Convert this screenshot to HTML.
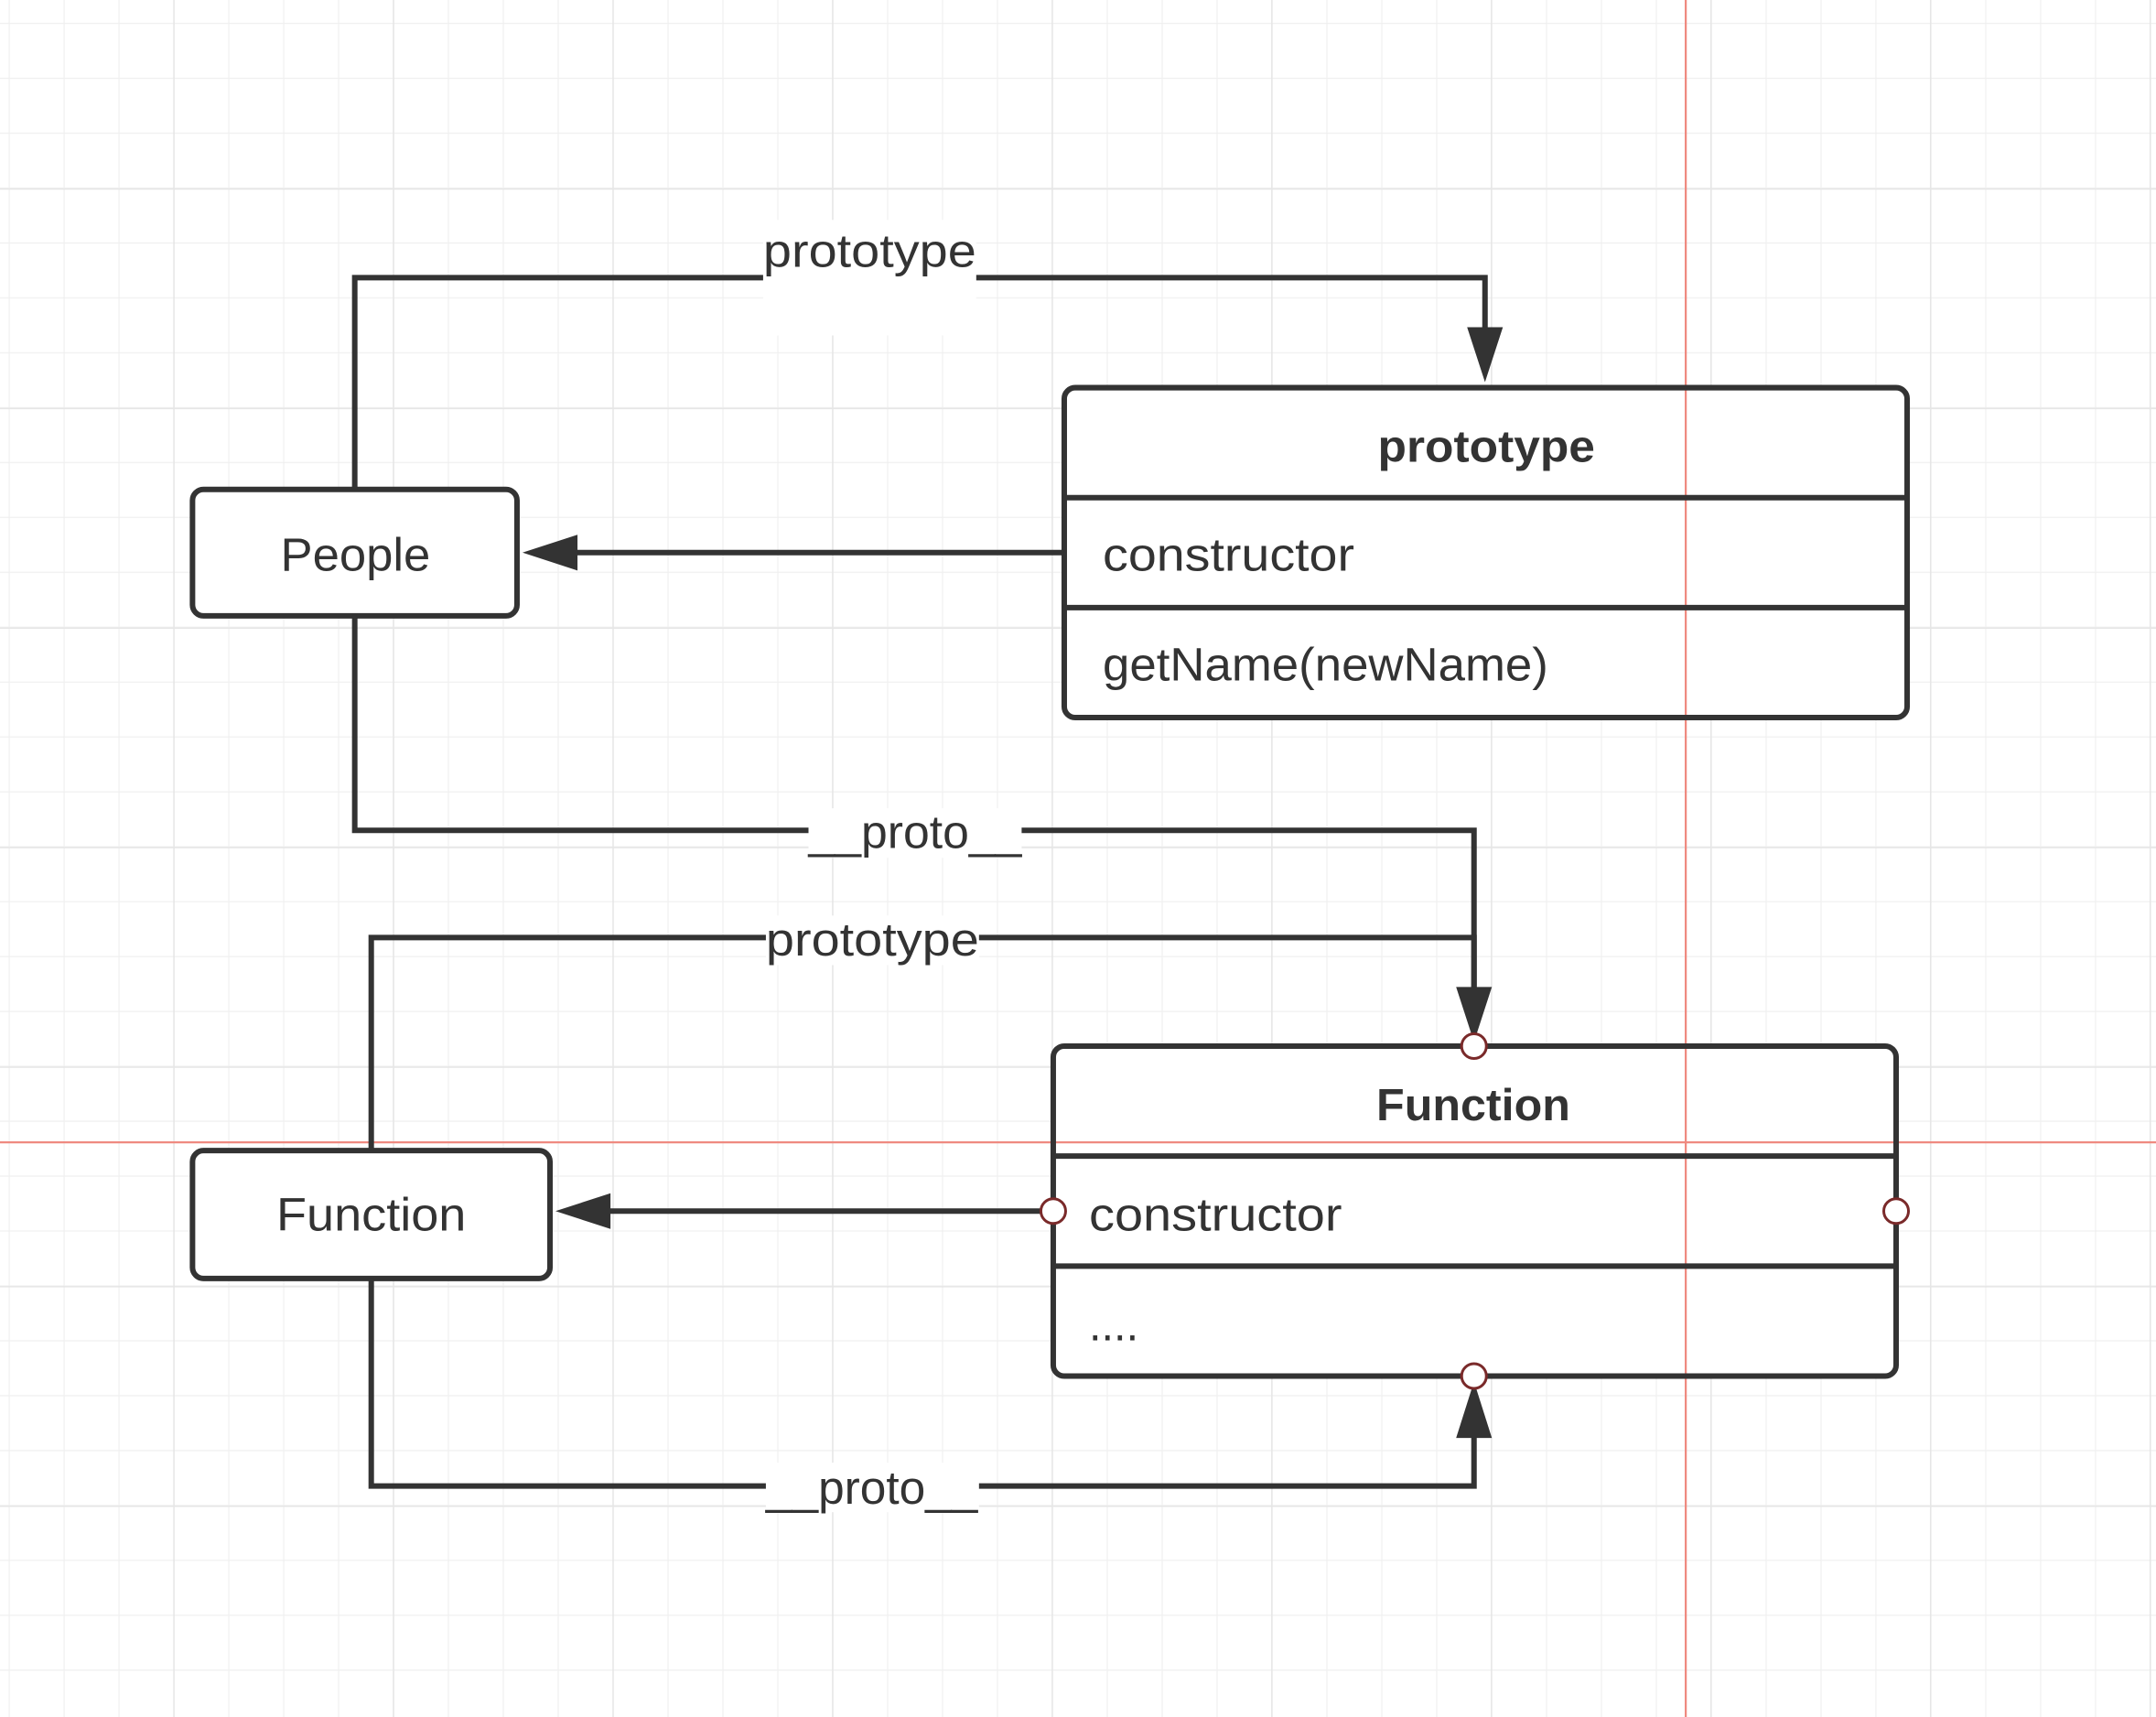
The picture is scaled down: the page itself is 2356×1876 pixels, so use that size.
<!DOCTYPE html>
<html><head><meta charset="utf-8"><style>
html,body{margin:0;padding:0;background:#fff;}
svg{display:block;}
text{font-family:"Liberation Sans",sans-serif;fill:#333;}
</style></head><body>
<svg width="2356" height="1876" viewBox="0 0 1568 1249" preserveAspectRatio="none" xmlns="http://www.w3.org/2000/svg">
<defs>
<pattern id="minor" x="6.3" y="16.6" width="39.93" height="39.93" patternUnits="userSpaceOnUse">
<path d="M0 0V39.93M0 0H39.93" stroke="#f0f0f0" stroke-width="1.6" fill="none"/>
</pattern>
<pattern id="major" x="126" y="137" width="159.7" height="159.7" patternUnits="userSpaceOnUse">
<path d="M0 0V159.7M0 0H159.7" stroke="#e6e6e6" stroke-width="2" fill="none"/>
</pattern>
</defs>
<rect width="1568" height="1249" fill="#fff"/>
<rect width="1568" height="1249" fill="url(#minor)"/>
<rect width="1568" height="1249" fill="url(#major)"/>

<rect x="140" y="356" width="236" height="92" rx="8" fill="#fff"/>
<rect x="774" y="282" width="613" height="240" rx="8" fill="#fff"/>
<rect x="766" y="761" width="613" height="240" rx="8" fill="#fff"/>
<rect x="140" y="837" width="260" height="93" rx="8" fill="#fff"/>

<line x1="1226" y1="0" x2="1226" y2="1249" stroke="#ef8a80" stroke-width="1.5"/>
<line x1="0" y1="831" x2="1568" y2="831" stroke="#ef8a80" stroke-width="1.5"/>

<g stroke="#333" stroke-width="4" fill="none">
<rect x="140" y="356" width="236" height="92" rx="8"/>
<rect x="774" y="282" width="613" height="240" rx="8"/>
<line x1="774" y1="362" x2="1387" y2="362"/>
<line x1="774" y1="442" x2="1387" y2="442"/>
<rect x="766" y="761" width="613" height="240" rx="8"/>
<line x1="766" y1="841" x2="1379" y2="841"/>
<line x1="766" y1="921" x2="1379" y2="921"/>
<rect x="140" y="837" width="260" height="93" rx="8"/>

<polyline points="258,356 258,202 1080,202 1080,240"/>
<line x1="774" y1="402" x2="418" y2="402"/>
<polyline points="258,448 258,604 1072,604 1072,722"/>
<polyline points="270,837 270,682 1072,682 1072,722"/>
<line x1="766" y1="881" x2="442" y2="881"/>
<polyline points="270,930 270,1081 1072,1081 1072,1044"/>
</g>
<g fill="#333">
<polygon points="1067,238 1093,238 1080,278"/>
<polygon points="420,389 420,415 380,402"/>
<polygon points="1059,718 1085,718 1072,758"/>
<polygon points="444,868 444,894 404,881"/>
<polygon points="1059,1046 1085,1046 1072,1005"/>
</g>

<rect x="555" y="160" width="155" height="84" fill="#fff"/>
<text x="555" y="194" font-size="34" textLength="155" lengthAdjust="spacingAndGlyphs">prototype</text>
<rect x="588" y="588" width="155" height="36" fill="#fff"/>
<text x="588" y="617" font-size="34" textLength="155" lengthAdjust="spacingAndGlyphs">__proto__</text>
<rect x="557" y="666" width="155" height="36" fill="#fff"/>
<text x="557" y="695" font-size="34" textLength="155" lengthAdjust="spacingAndGlyphs">prototype</text>
<rect x="557" y="1064" width="155" height="36" fill="#fff"/>
<text x="557" y="1094" font-size="34" textLength="154" lengthAdjust="spacingAndGlyphs">__proto__</text>

<text x="204" y="415" font-size="34" textLength="109" lengthAdjust="spacingAndGlyphs">People</text>
<text x="201" y="895" font-size="34" textLength="138" lengthAdjust="spacingAndGlyphs">Function</text>
<text x="1002" y="336" font-size="33" font-weight="bold" textLength="158" lengthAdjust="spacingAndGlyphs">prototype</text>
<text x="802" y="415" font-size="34" textLength="183" lengthAdjust="spacingAndGlyphs">constructor</text>
<text x="802" y="495" font-size="34" textLength="324" lengthAdjust="spacingAndGlyphs">getName(newName)</text>
<text x="1001" y="815" font-size="33" font-weight="bold" textLength="141" lengthAdjust="spacingAndGlyphs">Function</text>
<text x="792" y="895" font-size="34" textLength="184" lengthAdjust="spacingAndGlyphs">constructor</text>
<text x="792" y="975" font-size="34" textLength="36" lengthAdjust="spacingAndGlyphs">....</text>

<g fill="#fff" stroke="#7a2a2a" stroke-width="2">
<circle cx="1072" cy="761" r="9"/>
<circle cx="766" cy="881" r="9"/>
<circle cx="1379" cy="881" r="9"/>
<circle cx="1072" cy="1001" r="9"/>
</g>
</svg>
</body></html>
